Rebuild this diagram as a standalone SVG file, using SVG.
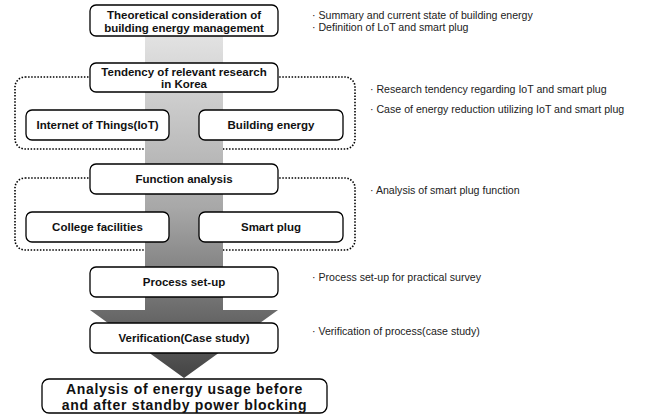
<svg xmlns="http://www.w3.org/2000/svg" width="648" height="415" viewBox="0 0 648 415">
<defs>
<linearGradient id="g" gradientUnits="userSpaceOnUse" x1="0" y1="36" x2="0" y2="378">
<stop offset="0" stop-color="#e2e2e2"/>
<stop offset="0.5" stop-color="#a8a8a8"/>
<stop offset="1" stop-color="#444"/>
</linearGradient>
</defs>
<style>
.box{fill:#fff;stroke:#000;stroke-width:1.3}
.dot{fill:none;stroke:#000;stroke-width:1.6;stroke-dasharray:1.5 1.6}
.t{font-family:"Liberation Sans",Arial,sans-serif;font-weight:bold;font-size:11.5px;text-anchor:middle;fill:#111}
.big{font-size:14px;letter-spacing:0.7px}
.n{font-family:"Liberation Sans",Arial,sans-serif;font-size:10.6px;fill:#222}
</style>
<rect class="dot" x="15" y="77" width="340" height="72" rx="10"/>
<rect class="dot" x="15" y="178" width="340" height="72" rx="10"/>
<g id="connectors">
<path d="M145 36 H223 V310 H278 L184 378 L90 310 H145 Z" fill="url(#g)"/>
</g>
<g id="n1"><rect class="box" x="90" y="5" width="188" height="31" rx="6"/>
<text class="t" x="184" y="18.5">Theoretical consideration of</text>
<text class="t" x="184" y="32">building energy management</text></g>
<g id="n2"><rect class="box" x="90" y="63" width="188" height="29" rx="6"/>
<text class="t" x="184" y="76">Tendency of relevant research</text>
<text class="t" x="184" y="88">in Korea</text></g>
<g id="n3"><rect class="box" x="26" y="110" width="143" height="30" rx="6"/>
<text class="t" x="97.5" y="129">Internet of Things(IoT)</text></g>
<g id="n4"><rect class="box" x="199" y="110" width="144" height="30" rx="6"/>
<text class="t" x="271" y="129">Building energy</text></g>
<g id="n5"><rect class="box" x="90" y="164" width="188" height="30" rx="6"/>
<text class="t" x="184" y="183">Function analysis</text></g>
<g id="n6"><rect class="box" x="26" y="212" width="143" height="30" rx="6"/>
<text class="t" x="97.5" y="231">College facilities</text></g>
<g id="n7"><rect class="box" x="199" y="212" width="144" height="30" rx="6"/>
<text class="t" x="271" y="231">Smart plug</text></g>
<g id="n8"><rect class="box" x="90" y="267" width="188" height="30" rx="6"/>
<text class="t" x="184" y="286">Process set-up</text></g>
<g id="n9"><rect class="box" x="90" y="323" width="188" height="30" rx="6"/>
<text class="t" x="184" y="342">Verification(Case study)</text></g>
<g id="n10"><rect class="box" x="42" y="379" width="285" height="34" rx="7"/>
<text class="t big" x="184.5" y="394">Analysis of energy usage before</text>
<text class="t big" x="184.5" y="409.5">and after standby power blocking</text></g>
<g id="notes">
<text class="n" x="312" y="18.5">· Summary and current state of building energy</text>
<text class="n" x="312" y="30.5">· Definition of LoT and smart plug</text>
<text class="n" x="370" y="92.5">· Research tendency regarding IoT and smart plug</text>
<text class="n" x="370" y="112.5">· Case of energy reduction utilizing IoT and smart plug</text>
<text class="n" x="370" y="194">· Analysis of smart plug function</text>
<text class="n" x="312" y="280.5">· Process set-up for practical survey</text>
<text class="n" x="312" y="335">· Verification of process(case study)</text>
</g>
</svg>
